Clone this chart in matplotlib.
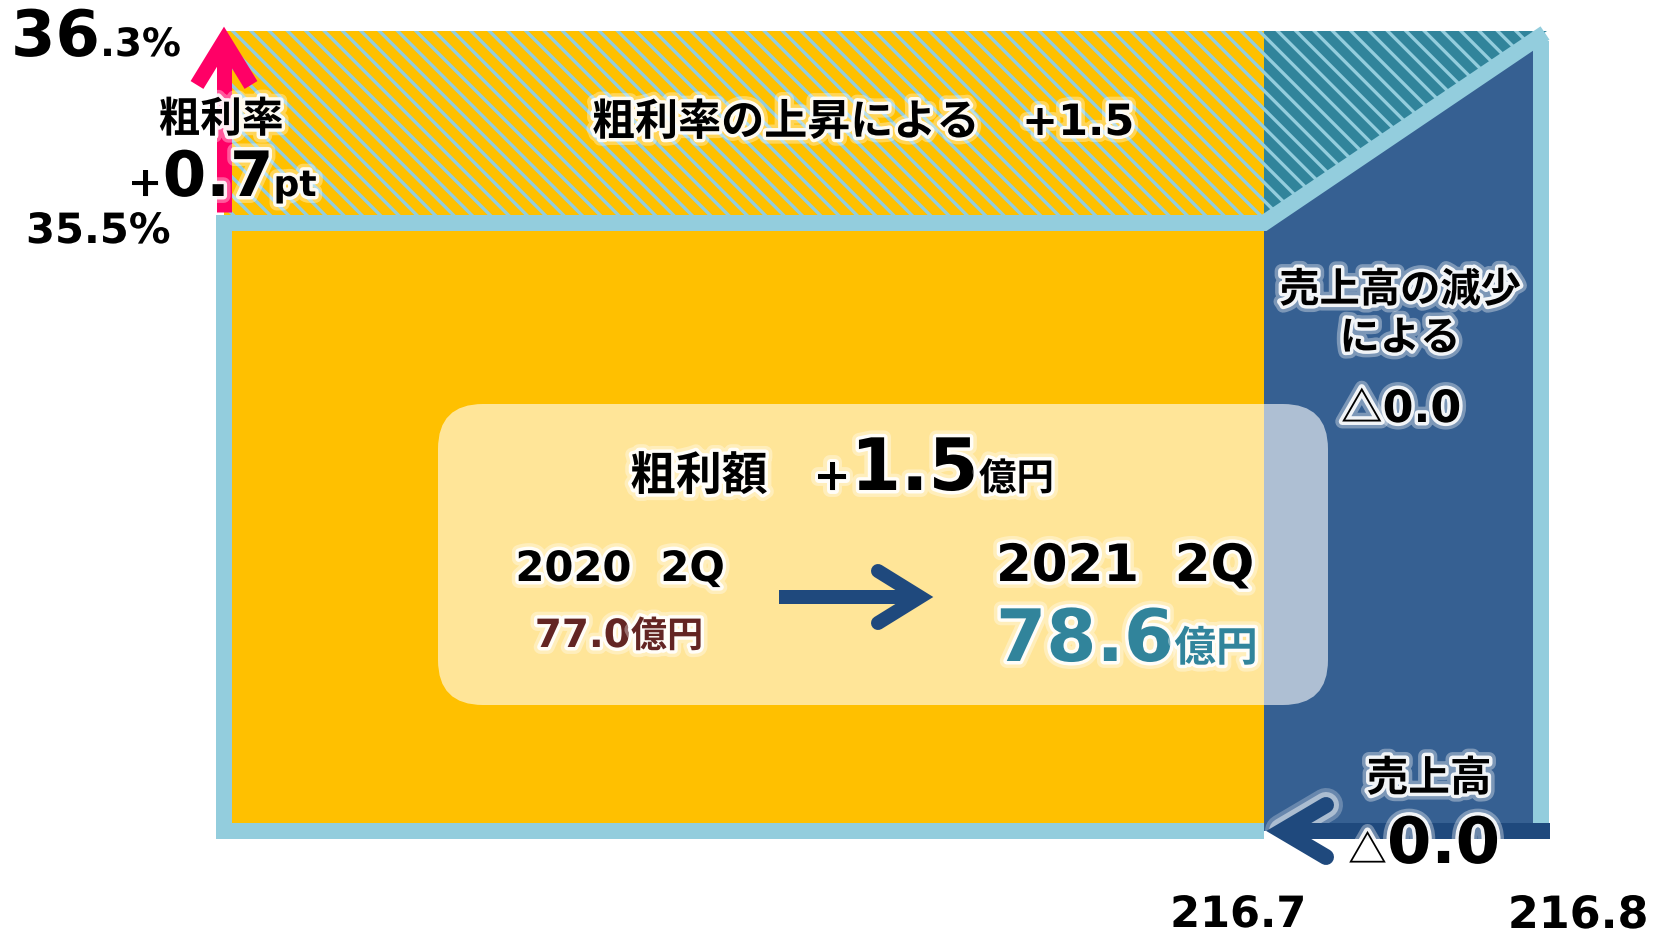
import matplotlib
matplotlib.use('Agg')
import matplotlib.pyplot as plt
from matplotlib.patches import Rectangle, Polygon, FancyBboxPatch
import matplotlib.patheffects as pe

# ---------------- data ----------------
margin_rate = [35.5, 36.3]          # 粗利率 (%) 2020 2Q -> 2021 2Q
rate_change = 0.7                   # pt
sales = [216.7, 216.8]              # 売上高 (億円)
sales_effect = 0.0                  # 売上高の減少による
rate_effect = 1.5                   # 粗利率の上昇による
gross_profit = [77.0, 78.6]         # 粗利額 (億円)
gp_change = 1.5
periods = ['2020', '2021']
quarter = '2Q'

# ---------------- style ----------------
ORANGE = '#FFC000'
LBLUE = '#93CDDD'
DBLUE = '#366092'
TEAL = '#31849B'
NAVY = '#1F497D'
PINK = '#FF0066'
BROWN = '#632523'
FAM = ['DejaVu Sans', 'Noto Sans CJK JP']
CJK = ['Noto Sans CJK JP', 'DejaVu Sans']
DPI = 110
S = 100 / DPI          # font-size scale (sizes below are given for 100 dpi)
PX = 72 / DPI          # points per pixel

plt.rcParams['hatch.linewidth'] = 3.3 * PX

fig = plt.figure(figsize=(1666 / DPI, 937 / DPI), dpi=DPI)
ax = fig.add_axes([0, 0, 1, 1])
ax.set_xlim(0, 1666)
ax.set_ylim(937, 0)
ax.axis('off')

# layout (pixel space)
X_L, X_M, X_R = 224, 1264, 1541
Y_TOP, Y_MID, Y_BOT = 32, 224, 832

# hatched top bands
ax.add_patch(Rectangle((X_L, Y_TOP), X_M - X_L, Y_MID - Y_TOP, fc=ORANGE,
                       ec=LBLUE, lw=0, hatch='\\\\', zorder=1))
ax.add_patch(Polygon([(X_M, Y_TOP), (X_R + 6, Y_TOP), (X_M, Y_MID)], closed=True,
                     fc=TEAL, ec=LBLUE, lw=0, hatch='\\\\', zorder=1))
# main areas
ax.add_patch(Rectangle((X_L, Y_MID), X_M - X_L, Y_BOT - Y_MID, fc=ORANGE, lw=0, zorder=2))
ax.add_patch(Polygon([(X_M, Y_MID), (X_R, 40), (X_R, Y_BOT), (X_M, Y_BOT)], closed=True,
                     fc=DBLUE, lw=0, zorder=2))

# frame
FLW = 16 * PX
kw = dict(color=LBLUE, lw=FLW, solid_capstyle='butt', solid_joinstyle='miter', zorder=3)
ax.plot([X_L, X_L], [Y_MID - 8, Y_BOT + 8], **kw)
ax.plot([X_L - 8, X_M], [Y_BOT, Y_BOT], **kw)
ax.plot([X_L - 8, X_M, X_R + 4], [Y_MID, Y_MID, 34], **kw)
ax.plot([X_R, X_R], [42, Y_BOT], **kw)

# pink arrow (margin rate up)
ax.plot([X_L, X_L], [213, 45], color=PINK, lw=15 * PX, solid_capstyle='butt', zorder=4)
ax.plot([197, X_L, 251], [86, 42, 86], color=PINK, lw=15 * PX,
        solid_capstyle='butt', solid_joinstyle='miter', zorder=4)

# bottom navy arrow (sales)
for w, a in [(34, 0.25), (26, 0.45)]:
    ax.plot([1326, 1282, 1326], [806, Y_BOT, 858], color='white', lw=w * PX, alpha=a,
            solid_capstyle='round', solid_joinstyle='round', zorder=4)
ax.plot([1285, 1550], [Y_BOT, Y_BOT], color=NAVY, lw=16 * PX, solid_capstyle='butt', zorder=5)
ax.plot([1326, 1282, 1326], [806, Y_BOT, 858], color=NAVY, lw=16 * PX,
        solid_capstyle='round', solid_joinstyle='miter', zorder=5)

# translucent rounded box
ax.add_patch(FancyBboxPatch((438, 405), 890, 301, boxstyle='round,pad=0,rounding_size=45',
                            fc='white', alpha=0.6, ec='none', zorder=6))

# center arrow
ax.plot([779, 918], [598, 598], color=NAVY, lw=14 * PX, solid_capstyle='butt', zorder=7)
ax.plot([878, 920, 878], [572, 598, 624], color=NAVY, lw=14 * PX,
        solid_capstyle='round', solid_joinstyle='miter', zorder=7)

# ---------------- text ----------------
GLOW = [pe.Stroke(linewidth=10 * S, foreground='white', alpha=0.35),
        pe.Stroke(linewidth=5 * S, foreground='white', alpha=0.9), pe.Normal()]
renderer = fig.canvas.get_renderer()


def runs(x, y, parts, ha='left', color='black'):
    arts = []
    for part in parts:
        s, size = part[0], part[1]
        fam = part[2] if len(part) > 2 else FAM
        t = ax.text(0, y, s, fontsize=size * S, color=color, fontweight='bold', family=fam,
                    va='baseline', ha='left', path_effects=GLOW, zorder=10)
        arts.append(t)
    widths = [t.get_window_extent(renderer=renderer).width for t in arts]
    x0 = x - sum(widths) / 2 if ha == 'center' else x
    for t, w in zip(arts, widths):
        t.set_x(x0)
        x0 += w


def fmt(v):
    return f'{v:.1f}'


def signed(v):
    return ('+' if v > 0 else '△') + fmt(abs(v))


hi_int, hi_dec = fmt(margin_rate[1]).split('.')
runs(11, 57, [(hi_int, 46), ('.' + hi_dec + '%', 28)])
runs(26, 244, [(fmt(margin_rate[0]) + '%', 30)])
runs(221, 133, [('粗利率', 30)], ha='center')
runs(128, 197, [('+', 30), (fmt(rate_change), 45), ('pt', 26)])

runs(863, 136, [('粗利率の上昇による', 31), ('　', 31), ('+' + fmt(rate_effect), 31)], ha='center')

se = signed(sales_effect)
runs(1400, 303, [('売上高の減少', 29)], ha='center')
runs(1400, 351, [('による', 29)], ha='center')
runs(1401, 423, [(se[0], 30, CJK), (se[1:], 32)], ha='center')

runs(1429, 792, [('売上高', 30)], ha='center')
runs(1424, 864, [(se[0], 28, CJK), (se[1:], 46)], ha='center')

runs(1238, 928, [(fmt(sales[0]), 31)], ha='center')
runs(1578, 929, [(fmt(sales[1]), 32)], ha='center')

runs(842, 491, [('粗利額', 33), ('　', 33), ('+', 32), (fmt(gp_change), 52), ('億円', 27)],
     ha='center')
runs(620, 582, [(f'{periods[0]}  {quarter}', 30)], ha='center')
runs(619, 648, [(fmt(gross_profit[0]), 28), ('億円', 26)], ha='center', color=BROWN)
runs(996, 582, [(f'{periods[1]}  {quarter}', 37)])
runs(996, 662, [(fmt(gross_profit[1]), 52), ('億円', 30)], color=TEAL)

fig.savefig('out.png', dpi=DPI)
